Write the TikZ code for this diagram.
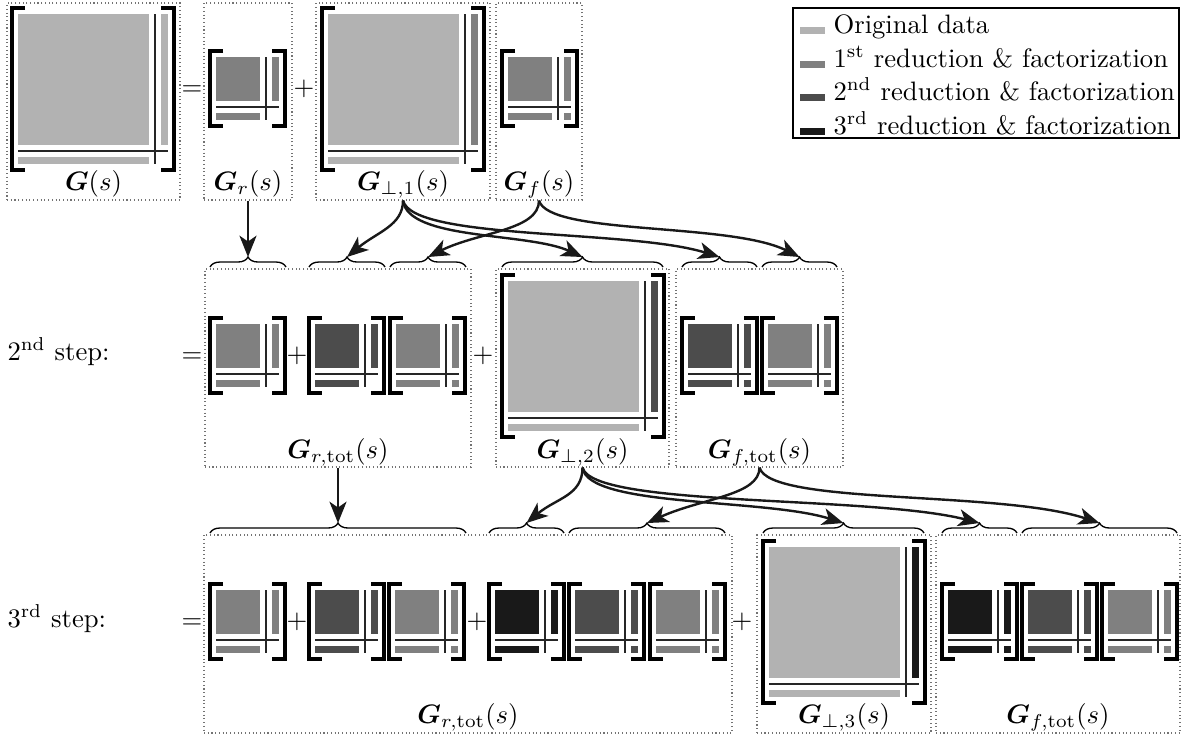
\documentclass[tikz,border=0pt]{standalone}
\usepackage{bm}
\usetikzlibrary{decorations.pathreplacing,arrows.meta,fit}
\definecolor{c0}{gray}{0.70}
\definecolor{c1}{gray}{0.50}
\definecolor{c2}{gray}{0.30}
\definecolor{c3}{gray}{0.10}
\tikzset{
  box/.style={draw=black!55, densely dotted, line width=0.4pt, inner sep=0pt},
  brk/.style={line width=1.2pt, line join=miter},
  seplin/.style={line width=0.45pt, black!85},
  brc/.style={decorate, decoration={brace, amplitude=3.75pt}, line width=0.5pt},
  arr/.style={-{Stealth[length=8pt,width=6.4pt,inset=2.2pt]}, line width=0.9pt, black!90},
  lbl/.style={anchor=base, inner sep=0pt},
  op/.style={anchor=base, inner sep=0pt},
}
% #1=L #2=T #3=a #4 colA #5 colB #6 colC #7 colD (or none)
\newcommand{\mymat}[7]{%
  \fill[#4] (#1+6,#2+6) rectangle (#1+6+#3,#2+6+#3);
  \fill[#5] (#1+#3+18,#2+6) rectangle (#1+#3+25,#2+6+#3);
  \fill[#6] (#1+6,#2+#3+18) rectangle (#1+6+#3,#2+#3+25);
  \path[fill=#7] (#1+#3+18,#2+#3+18) rectangle (#1+#3+25,#2+#3+25);
  \draw[seplin] (#1+#3+12,#2+6) -- (#1+#3+12,#2+#3+25);
  \draw[seplin] (#1+6,#2+#3+12) -- (#1+#3+25,#2+#3+12);
  \draw[brk] (#1+13,#2) -- (#1,#2) -- (#1,#2+#3+31) -- (#1+13,#2+#3+31);
  \draw[brk] (#1+#3+18,#2) -- (#1+#3+31,#2) -- (#1+#3+31,#2+#3+31) -- (#1+#3+18,#2+#3+31);
}
\begin{document}
\begin{tikzpicture}[x=0.375pt,y=-0.375pt]
\useasboundingbox (0,0) rectangle (1182,738);

% ---------- Row 1 ----------
\node[box, fit={(7,3) (180,200)}] (B1) {};
\node[box, fit={(204,3) (292,200)}] (B2) {};
\node[box, fit={(316,3) (490,200)}] (B3) {};
\node[box, fit={(496,3) (582,200)}] (B4) {};
\mymat{12}{8}{131}{c0}{c0}{c0}{none}
\mymat{210}{51}{44}{c1}{c1}{c1}{none}
\mymat{322}{8}{131}{c0}{c1}{c0}{none}
\mymat{502}{51}{44}{c1}{c1}{c1}{c1}
\node[op] (eq1) at (192,95.5) {$=$};
\node[op] (pl1) at (304,95.5) {$+$};
\node[lbl] (L1) at (93.5,190) {$\bm{G}(s)$};
\node[lbl] (L2) at (248,190) {$\bm{G}_r(s)$};
\node[lbl] (L3) at (403,190) {$\bm{G}_{\perp,1}(s)$};
\node[lbl] (L4) at (539,190) {$\bm{G}_f(s)$};

% ---------- Legend ----------
\node[draw, line width=0.5pt, fit={(793,8) (1179,138)}, inner sep=0pt] (leg) {};
\fill[c0] (800,27) rectangle (825,34);
\fill[c1] (800,60.5) rectangle (825,67.5);
\fill[c2] (800,94) rectangle (825,101);
\fill[c3] (800,127.5) rectangle (825,134.5);
\node[anchor=base west, inner sep=0pt] (lg0) at (833,33.5) {Original data};
\node[anchor=base west, inner sep=0pt] (lg1) at (833,67) {1\textsuperscript{st} reduction \& factorization};
\node[anchor=base west, inner sep=0pt] (lg2) at (833,100.5) {2\textsuperscript{nd} reduction \& factorization};
\node[anchor=base west, inner sep=0pt] (lg3) at (833,134) {3\textsuperscript{rd} reduction \& factorization};

% ---------- Row 2 ----------
\node[anchor=base west, inner sep=0pt] (s2) at (7,360) {2\textsuperscript{nd} step:};
\node[box, fit={(205,269) (471,467)}] (B5) {};
\node[box, fit={(496,269) (669,467)}] (B6) {};
\node[box, fit={(676,269) (843,467)}] (B7) {};
\mymat{210}{318}{44}{c1}{c1}{c1}{none}
\mymat{309}{318}{44}{c2}{c2}{c2}{none}
\mymat{390}{318}{44}{c1}{c1}{c1}{c1}
\mymat{502}{275}{131}{c0}{c2}{c0}{none}
\mymat{682}{318}{44}{c2}{c2}{c2}{c2}
\mymat{762}{318}{44}{c1}{c1}{c1}{c1}
\node[op] (eq2) at (192,362.5) {$=$};
\node[op] (pl2a) at (297,362.5) {$+$};
\node[op] (pl2b) at (483,362.5) {$+$};
\node[lbl] (L5) at (338,458) {$\bm{G}_{r,\mathrm{tot}}(s)$};
\node[lbl] (L6) at (582.5,458) {$\bm{G}_{\perp,2}(s)$};
\node[lbl] (L7) at (759.5,458) {$\bm{G}_{f,\mathrm{tot}}(s)$};
\draw[brc] (210,267) -- coordinate[pos=.5,yshift=3.75pt] (r2a) (286,267);
\draw[brc] (309,267) -- coordinate[pos=.5,yshift=3.75pt] (r2b) (385,267);
\draw[brc] (390,267) -- coordinate[pos=.5,yshift=3.75pt] (r2c) (466,267);
\draw[brc] (502,267) -- coordinate[pos=.5,yshift=3.75pt] (r2d) (663,267);
\draw[brc] (682,267) -- coordinate[pos=.5,yshift=3.75pt] (r2e) (757,267);
\draw[brc] (762,267) -- coordinate[pos=.5,yshift=3.75pt] (r2f) (837,267);

% ---------- Row 3 ----------
\node[anchor=base west, inner sep=0pt] (s3) at (7,627) {3\textsuperscript{rd} step:};
\node[box, fit={(204,535) (732,733)}] (B8) {};
\node[box, fit={(757,535) (931,733)}] (B9) {};
\node[box, fit={(936,535) (1180,733)}] (B10) {};
\mymat{210}{584}{44}{c1}{c1}{c1}{none}
\mymat{309}{584}{44}{c2}{c2}{c2}{none}
\mymat{389}{584}{44}{c1}{c1}{c1}{c1}
\mymat{489}{584}{44}{c3}{c3}{c3}{none}
\mymat{569}{584}{44}{c2}{c2}{c2}{c2}
\mymat{650}{584}{44}{c1}{c1}{c1}{c1}
\mymat{763}{541}{131}{c0}{c3}{c0}{none}
\mymat{942}{584}{44}{c3}{c3}{c3}{c3}
\mymat{1022}{584}{44}{c2}{c2}{c2}{c2}
\mymat{1102}{584}{44}{c1}{c1}{c1}{c1}
\node[op] (eq3) at (192,628.5) {$=$};
\node[op] (pl3a) at (297,628.5) {$+$};
\node[op] (pl3b) at (477,628.5) {$+$};
\node[op] (pl3c) at (742,628.5) {$+$};
\node[lbl] (L8) at (468,723) {$\bm{G}_{r,\mathrm{tot}}(s)$};
\node[lbl] (L9) at (844,723) {$\bm{G}_{\perp,3}(s)$};
\node[lbl] (L10) at (1058,723) {$\bm{G}_{f,\mathrm{tot}}(s)$};
\draw[brc] (210,533) -- coordinate[pos=.5,yshift=3.75pt] (r3a) (466,533);
\draw[brc] (489,533) -- coordinate[pos=.5,yshift=3.75pt] (r3b) (564,533);
\draw[brc] (569,533) -- coordinate[pos=.5,yshift=3.75pt] (r3c) (725,533);
\draw[brc] (763,533) -- coordinate[pos=.5,yshift=3.75pt] (r3d) (924,533);
\draw[brc] (942,533) -- coordinate[pos=.5,yshift=3.75pt] (r3e) (1017,533);
\draw[brc] (1022,533) -- coordinate[pos=.5,yshift=3.75pt] (r3f) (1177,533);

% ---------- Arrows row 1 -> row 2 ----------
\draw[arr] (B2.south) -- (r2a);
\draw[arr] (B3.south) .. controls +(0,25) and +(30,-25) .. (r2b);
\draw[arr] (B4.south) .. controls +(0,30) and +(50,-25) .. (r2c);
\draw[arr] (B3.south) .. controls +(5,40) and +(-55,-25) .. (r2d);
\draw[arr] (B3.south) .. controls +(10,40) and +(-90,-28) .. (r2e);
\draw[arr] (B4.south) .. controls +(10,35) and +(-70,-35) .. (r2f);

% ---------- Arrows row 2 -> row 3 ----------
\draw[arr] (B5.south) -- (r3a);
\draw[arr] (B6.south) .. controls +(0,28) and +(30,-25) .. (r3b);
\draw[arr] (B7.south) .. controls +(0,28) and +(55,-25) .. (r3c);
\draw[arr] (B6.south) .. controls +(5,40) and +(-80,-25) .. (r3d);
\draw[arr] (B6.south) .. controls +(10,40) and +(-110,-28) .. (r3e);
\draw[arr] (B7.south) .. controls +(10,38) and +(-100,-33) .. (r3f);
\end{tikzpicture}
\end{document}
